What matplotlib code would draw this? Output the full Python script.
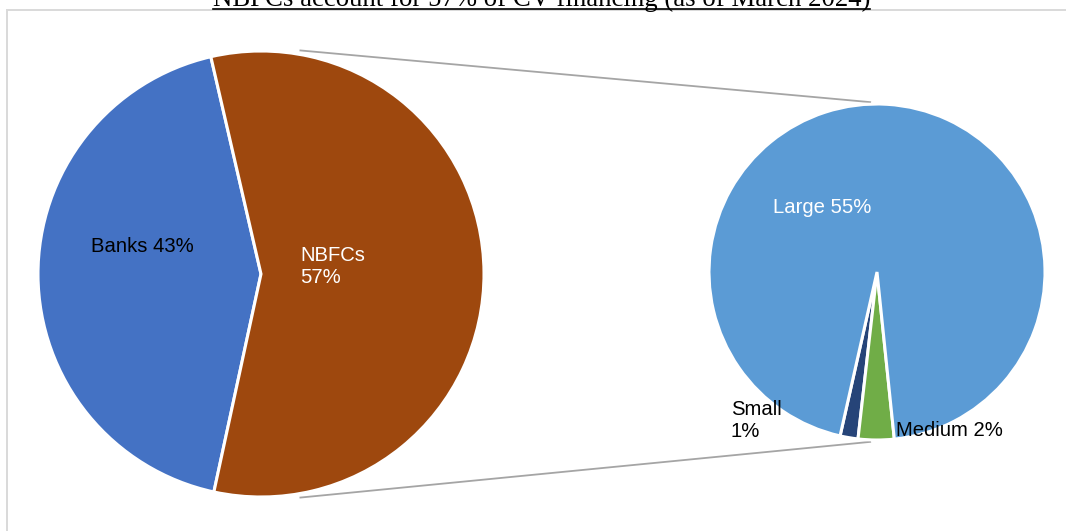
import numpy as np
import matplotlib.pyplot as plt
from matplotlib.patches import Rectangle

W, H = 1066, 531

title = "NBFCs account for 57% of CV financing (as of March 2024)"

# market share of CV financing
lenders = ["Banks", "NBFCs"]
lender_share = [43, 57]
lender_colors = ["#4472C4", "#9E480E"]

# split of the NBFC share by NBFC size
nbfc_sizes = ["Small", "Medium", "Large"]
nbfc_share = [1, 2, 55]
size_colors = ["#264478", "#70AD47", "#5B9BD5"]

fig = plt.figure(figsize=(W / 100, H / 100), dpi=100)
ax = fig.add_axes([0, 0, 1, 1])


def py(y):
    # pixel row (from top) -> data y
    return H - y


# left pie: banks vs NBFCs
c1, r1 = (261, py(274)), 223
ax.pie(lender_share, colors=lender_colors, startangle=103, center=c1, radius=r1,
       wedgeprops=dict(edgecolor="white", linewidth=2.2), frame=True)

# right pie: NBFCs by size
c2, r2 = (877, py(272)), 168
ax.pie(nbfc_share, colors=size_colors, startangle=257.3, center=c2, radius=r2,
       wedgeprops=dict(edgecolor="white", linewidth=2.2), frame=True)

# series lines joining the two pies
for a1, a2 in [(80, 92.3), (-80, -92.3)]:
    p1 = (c1[0] + (r1 + 4) * np.cos(np.radians(a1)), c1[1] + (r1 + 4) * np.sin(np.radians(a1)))
    p2 = (c2[0] + (r2 + 2) * np.cos(np.radians(a2)), c2[1] + (r2 + 2) * np.sin(np.radians(a2)))
    ax.plot([p1[0], p2[0]], [p1[1], p2[1]], color="#A5A5A5", lw=1.3, zorder=0)

lab = dict(fontsize=14.6, family="Liberation Sans", va="baseline", ha="left")
ax.text(91, py(252), f"{lenders[0]} {lender_share[0]}%", color="black", **lab)
ax.text(300, py(283), f"{lenders[1]}\n{lender_share[1]}%", color="white", linespacing=1.2, **lab)
ax.text(773, py(213), f"{nbfc_sizes[2]} {nbfc_share[2]}%", color="white", **lab)
ax.text(731, py(437), f"{nbfc_sizes[0]}\n{nbfc_share[0]}%", color="black", linespacing=1.2, **lab)
ax.text(896, py(436), f"{nbfc_sizes[1]} {nbfc_share[1]}%", color="black", **lab)

# chart area border (runs off the right and bottom edges)
ax.add_patch(Rectangle((7, -20), W, py(10) + 20, fill=False, edgecolor="#D9D9D9", lw=1.4))

# title, clipped at the top as in the source, underlined
ax.text(541.5, py(6), title, ha="center", va="baseline", family="Liberation Serif",
        fontsize=19.3, color="black")
ax.plot([213, 870], [py(8.5), py(8.5)], color="black", lw=1.2)

ax.set_xlim(0, W)
ax.set_ylim(0, H)
ax.set_aspect("auto")
ax.axis("off")

fig.savefig("out.png", dpi=100)
